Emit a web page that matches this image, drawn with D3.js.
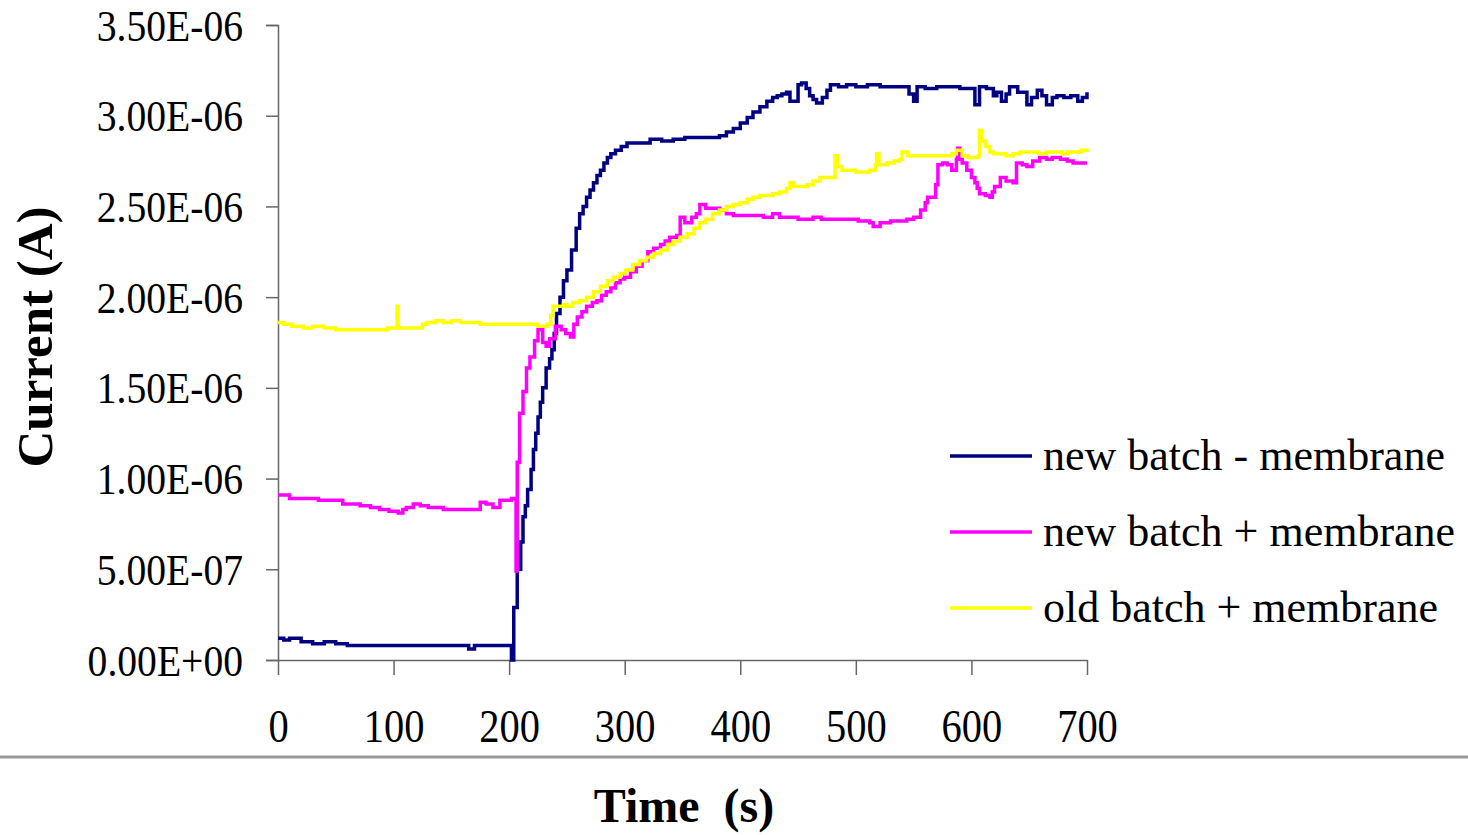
<!DOCTYPE html>
<html>
<head>
<meta charset="utf-8">
<script src="https://cdn.jsdelivr.net/npm/d3@7"></script>
<style>
  body { margin: 0; background: #fff; }
  svg { display: block; font-family: "Liberation Serif", "Times New Roman", serif; }
</style>
</head>
<body>
<svg width="1468" height="835"></svg>
<script>
// values, current in micro-amps
const blueT = [0,5,10,20,30,40,50,60,68,80,100,120,140,160,165,170,180,190,201,202,204,207,210,212,214,216,219,221,223,225,227,229,232,235,237,239,241,244,247,250,254,258,261,264,267,270,273,276,279,282,285,288,292,297,302,310,322,332,342,352,365,375,382,388,394,400,406,411,417,423,428,432,436,440,443,445,450,453,457,460,463,466,471,475,478,485,492,500,510,515,521,530,541,546,550,553,560,570,579,590,602,603,607,613,619,622,626,630,633,640,648,652,657,661,665,670,674,680,686,692,696,700]
const blueV = [0.12,0.11,0.12,0.10,0.09,0.10,0.09,0.08,0.08,0.08,0.08,0.08,0.08,0.08,0.06,0.08,0.08,0.08,0.08,0.0,0.29,0.50,0.65,0.79,0.85,0.94,1.05,1.16,1.25,1.34,1.42,1.50,1.61,1.66,1.71,1.80,1.91,2.00,2.09,2.15,2.26,2.38,2.46,2.50,2.55,2.59,2.63,2.67,2.70,2.74,2.77,2.79,2.81,2.83,2.85,2.85,2.87,2.86,2.87,2.88,2.88,2.88,2.89,2.91,2.93,2.96,2.99,3.02,3.05,3.08,3.10,3.11,3.12,3.13,3.08,3.08,3.17,3.18,3.15,3.11,3.09,3.07,3.10,3.14,3.17,3.16,3.17,3.16,3.17,3.17,3.16,3.16,3.16,3.12,3.08,3.16,3.15,3.16,3.16,3.15,3.15,3.06,3.16,3.15,3.11,3.13,3.08,3.12,3.16,3.13,3.06,3.10,3.14,3.11,3.06,3.10,3.11,3.10,3.11,3.08,3.10,3.13]

const pinkT = [0,5,10,16,25,35,45,51,56,63,71,80,88,96,104,108,111,117,123,130,136,143,150,158,166,175,180,186,192,197,202,205,206,207,209,212,215,218,222,225,229,232,235,240,245,249,253,256,259,263,267,272,276,280,284,288,292,296,300,305,310,315,320,325,331,335,339,345,348,352,358,362,365,370,374,382,388,394,402,411,420,428,434,440,450,457,463,470,480,492,502,512,515,521,530,544,550,556,560,562,567,569,571,575,579,583,587,588,590,592,596,600,603,605,607,612,616,618,620,625,630,636,639,644,648,653,659,665,670,677,683,688,694,700]
const pinkV = [0.91,0.91,0.89,0.89,0.89,0.88,0.88,0.88,0.86,0.86,0.85,0.84,0.83,0.82,0.81,0.83,0.84,0.86,0.85,0.84,0.84,0.83,0.83,0.83,0.83,0.87,0.86,0.84,0.88,0.88,0.89,0.89,0.49,1.09,1.36,1.48,1.61,1.67,1.76,1.82,1.75,1.73,1.77,1.84,1.82,1.80,1.78,1.85,1.89,1.92,1.95,1.97,1.98,2.01,2.03,2.05,2.08,2.10,2.11,2.14,2.17,2.20,2.25,2.27,2.29,2.31,2.33,2.34,2.44,2.41,2.44,2.46,2.51,2.49,2.49,2.48,2.46,2.45,2.45,2.45,2.44,2.46,2.44,2.44,2.43,2.43,2.44,2.43,2.43,2.43,2.42,2.41,2.39,2.41,2.42,2.43,2.44,2.48,2.52,2.55,2.55,2.62,2.73,2.74,2.73,2.70,2.76,2.82,2.76,2.74,2.70,2.66,2.63,2.60,2.57,2.56,2.55,2.58,2.61,2.66,2.64,2.63,2.74,2.73,2.72,2.75,2.77,2.76,2.77,2.76,2.75,2.74,2.74,2.74]

const yellowT = [0,5,12,22,30,40,50,62,75,86,95,102,103,104,110,120,125,129,136,143,150,158,166,175,181,190,200,209,218,225,233,236,238,243,247,250,255,261,267,273,279,285,290,296,301,307,313,319,325,331,337,342,348,354,360,365,370,376,382,388,394,400,406,411,417,423,428,434,440,443,446,452,458,463,469,475,480,482,484,488,495,500,506,512,517,518,520,527,533,538,540,545,550,557,564,572,579,583,587,592,597,602,606,607,609,612,616,619,625,630,636,642,651,658,665,672,678,683,690,695,700]
const yellowV = [1.86,1.85,1.84,1.83,1.84,1.83,1.82,1.82,1.82,1.82,1.83,1.83,1.95,1.83,1.83,1.83,1.85,1.86,1.87,1.86,1.87,1.86,1.86,1.85,1.85,1.85,1.85,1.85,1.85,1.84,1.85,1.90,1.95,1.95,1.96,1.95,1.97,1.98,2.00,2.03,2.06,2.09,2.11,2.13,2.15,2.18,2.20,2.22,2.24,2.26,2.29,2.31,2.33,2.35,2.38,2.41,2.43,2.46,2.48,2.50,2.51,2.52,2.54,2.55,2.56,2.56,2.57,2.58,2.60,2.63,2.61,2.61,2.62,2.64,2.66,2.66,2.66,2.78,2.72,2.70,2.70,2.69,2.69,2.70,2.73,2.79,2.73,2.74,2.75,2.76,2.80,2.78,2.78,2.78,2.78,2.78,2.78,2.79,2.81,2.78,2.77,2.77,2.78,2.92,2.86,2.83,2.80,2.79,2.79,2.78,2.79,2.80,2.80,2.79,2.80,2.80,2.79,2.80,2.80,2.81,2.80]

const seriesNames = ["new batch - membrane", "new batch + membrane", "old batch + membrane"]
const seriesColors = ["#000080", "#ff00ff", "#ffff00"]

const xTicks = [0, 100, 200, 300, 400, 500, 600, 700]
const yTicks = [0, 5e-7, 1e-6, 1.5e-6, 2e-6, 2.5e-6, 3e-6, 3.5e-6]
const yTickLabels = ["0.00E+00","5.00E-07","1.00E-06","1.50E-06","2.00E-06","2.50E-06","3.00E-06","3.50E-06"]

const svg = d3.select("svg")
const width = +svg.attr("width")
const height = +svg.attr("height")

const plotLeft = 278, plotRight = 1087, plotTop = 25, plotBottom = 660

const x = d3.scaleLinear().domain([0, 700]).range([plotLeft, plotRight])
const y = d3.scaleLinear().domain([0, 3.5e-6]).range([plotBottom, plotTop])

const toPoints = (ts, vs) => ts.map((t, i) => ({ t: t, v: vs[i] * 1e-6 }))
const series = [toPoints(blueT, blueV), toPoints(pinkT, pinkV), toPoints(yellowT, yellowV)]

// y axis
const gy = svg.append("g")
    .attr("transform", `translate(${plotLeft},0)`)
    .call(d3.axisLeft(y).tickValues(yTicks).tickSize(12).tickFormat((d, i) => yTickLabels[i]))
gy.select(".domain").attr("stroke", "#666").attr("stroke-width", 1.5)
gy.selectAll(".tick line").attr("stroke", "#666").attr("stroke-width", 1.5)
gy.selectAll(".tick text")
    .attr("x", 0).attr("dy", null).attr("y", 0)
    .attr("transform", "translate(-35,15) scale(0.9,1)")
    .attr("font-size", 44).attr("fill", "#000")
    .attr("font-family", "Liberation Serif, Times New Roman, serif")

// x axis
const gx = svg.append("g")
    .attr("transform", `translate(0,${plotBottom})`)
    .call(d3.axisBottom(x).tickValues(xTicks).tickSize(15).tickSizeOuter(0))
gx.select(".domain").attr("stroke", "#666").attr("stroke-width", 1.5)
gx.selectAll(".tick line").attr("stroke", "#666").attr("stroke-width", 1.5)
gx.selectAll(".tick text")
    .attr("y", 0).attr("dy", null)
    .attr("transform", "translate(0,82) scale(0.88,1)")
    .attr("font-size", 46).attr("fill", "#000")
    .attr("font-family", "Liberation Serif, Times New Roman, serif")

// lines
const line = d3.line()
    .x(d => x(d.t))
    .y(d => y(d.v))
    .curve(d3.curveStepAfter)

svg.selectAll("path.series").data(series)
  .enter().append("path")
    .attr("class", "series")
    .attr("d", line)
    .attr("fill", "none")
    .attr("stroke", (d, i) => seriesColors[i])
    .attr("stroke-width", 3.5)
    .attr("stroke-linejoin", "miter")

// legend
const legend = svg.append("g").attr("transform", "translate(950,456)")
const rows = legend.selectAll("g").data(seriesNames)
  .enter().append("g")
    .attr("transform", (d, i) => `translate(0,${i * 76})`)
rows.append("line")
    .attr("x1", 0).attr("x2", 82).attr("y1", 0).attr("y2", 0)
    .attr("stroke", (d, i) => seriesColors[i])
    .attr("stroke-width", 3.5)
rows.append("text")
    .attr("x", 93).attr("y", 14)
    .attr("font-size", 44)
    .text(d => d)

// separator
svg.append("line")
    .attr("x1", 0).attr("x2", width)
    .attr("y1", 757).attr("y2", 757)
    .attr("stroke", "#999").attr("stroke-width", 3)

// axis titles
svg.append("text")
    .attr("transform", "translate(52,337) rotate(-90)")
    .attr("text-anchor", "middle")
    .attr("font-size", 51)
    .attr("font-weight", "bold")
    .text("Current (A)")

svg.append("text")
    .attr("transform", "translate(684,822)")
    .attr("text-anchor", "middle")
    .attr("font-size", 48)
    .attr("font-weight", "bold")
    .style("white-space", "pre")
    .text("Time  (s)")
</script>
</body>
</html>
